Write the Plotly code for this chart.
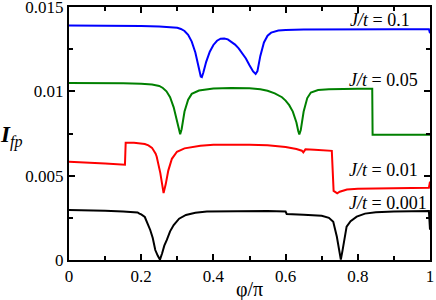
import plotly.graph_objects as go

# J/t = 0.1 (blue)
x_01 = [0, 0.05, 0.10, 0.15, 0.20, 0.25, 0.28, 0.30, 0.31, 0.32, 0.33, 0.34, 0.35, 0.355, 0.36, 0.365,
        0.368, 0.372, 0.38, 0.39, 0.40, 0.41, 0.42, 0.43, 0.44, 0.45, 0.46, 0.47, 0.48, 0.49, 0.50,
        0.51, 0.517, 0.522, 0.53, 0.54, 0.55, 0.56, 0.58, 0.60, 0.65, 0.70, 0.80, 0.90, 0.997, 1.0]
y_01 = [0.01390, 0.01390, 0.01389, 0.01388, 0.01387, 0.01385, 0.01382, 0.01377, 0.01370, 0.01358,
        0.01335, 0.01295, 0.01230, 0.01180, 0.01125, 0.01088, 0.01085, 0.01110, 0.01175, 0.01235,
        0.01275, 0.01300, 0.01312, 0.01313, 0.01308, 0.01295, 0.01277, 0.01255, 0.01228, 0.01195,
        0.01155, 0.01118, 0.01103, 0.01120, 0.01210, 0.01290, 0.01330, 0.01348, 0.01360, 0.01364,
        0.01367, 0.01368, 0.01368, 0.01368, 0.01368, 0.01345]

# J/t = 0.05 (green)
x_005 = [0, 0.05, 0.10, 0.15, 0.20, 0.23, 0.25, 0.26, 0.27, 0.28, 0.29, 0.295, 0.30, 0.305, 0.308,
         0.312, 0.32, 0.33, 0.34, 0.36, 0.38, 0.40, 0.45, 0.50, 0.53, 0.55, 0.57, 0.59, 0.60, 0.61,
         0.62, 0.63, 0.635, 0.638, 0.642, 0.65, 0.66, 0.67, 0.69, 0.72, 0.80, 0.840, 0.841, 0.90, 1.0]
y_005 = [0.01050, 0.01050, 0.01049, 0.01048, 0.01045, 0.01040, 0.01032, 0.01020, 0.01000, 0.00965,
         0.00905, 0.00860, 0.00800, 0.00755, 0.00745, 0.00775, 0.00880, 0.00950, 0.00985, 0.01005,
         0.01013, 0.01017, 0.01020, 0.01018, 0.01012, 0.01003, 0.00988, 0.00965, 0.00945, 0.00918,
         0.00880, 0.00815, 0.00765, 0.00745, 0.00770, 0.00880, 0.00960, 0.00993, 0.01008, 0.01013,
         0.01015, 0.01015, 0.00742, 0.00742, 0.00742]

# J/t = 0.01 (red)
x_001 = [0, 0.05, 0.10, 0.155, 0.157, 0.18, 0.20, 0.21, 0.22, 0.23, 0.24, 0.243, 0.253, 0.262,
         0.268, 0.275, 0.285, 0.299, 0.32, 0.364, 0.40, 0.45, 0.50, 0.55, 0.60, 0.63, 0.645, 0.649,
         0.655, 0.68, 0.71, 0.728, 0.733, 0.743, 0.75, 0.77, 0.80, 0.85, 0.90, 0.997, 1.0]
y_001 = [0.00582, 0.00578, 0.00572, 0.00565, 0.00695, 0.00695, 0.00692, 0.00688, 0.00680, 0.00665,
         0.00630, 0.00612, 0.00515, 0.00397, 0.00450, 0.00530, 0.00600, 0.00642, 0.00662, 0.00678,
         0.00684, 0.00686, 0.00684, 0.00680, 0.00670, 0.00658, 0.00648, 0.00638, 0.00656, 0.00654,
         0.00650, 0.00647, 0.00410, 0.00395, 0.00405, 0.00418, 0.00423, 0.00425, 0.00427, 0.00429,
         0.00465]

# J/t = 0.001 (black)
x_0001 = [0, 0.05, 0.10, 0.15, 0.19, 0.195, 0.20, 0.21, 0.216, 0.225, 0.232, 0.239, 0.246, 0.252,
          0.258, 0.264, 0.271, 0.28, 0.29, 0.305, 0.324, 0.35, 0.382, 0.45, 0.50, 0.55, 0.60, 0.603,
          0.65, 0.70, 0.72, 0.732, 0.742, 0.748, 0.753, 0.758, 0.764, 0.769, 0.78, 0.797, 0.82, 0.85,
          0.90, 0.95, 0.997, 1.0]
y_0001 = [0.00296, 0.00295, 0.00292, 0.00287, 0.00282, 0.00275, 0.00270, 0.00255, 0.00227, 0.00178,
          0.00130, 0.00059, 0.00025, 0.00002, 0.00040, 0.00085, 0.00119, 0.00170, 0.00207, 0.00245,
          0.00267, 0.00280, 0.00287, 0.00290, 0.00291, 0.00290, 0.00287, 0.00273, 0.00268, 0.00262,
          0.00250, 0.00227, 0.00138, 0.00060, 0.00002, 0.00060, 0.00140, 0.00198, 0.00230, 0.00257,
          0.00275, 0.00283, 0.00287, 0.00289, 0.00290, 0.00180]

series = [
    ("J/t = 0.1", x_01, y_01, "#0000ff"),
    ("J/t = 0.05", x_005, y_005, "#008000"),
    ("J/t = 0.01", x_001, y_001, "#ff0000"),
    ("J/t = 0.001", x_0001, y_0001, "#000000"),
]

label_text = ["<i>J/t</i> = 0.1", "<i>J/t</i> = 0.05", "<i>J/t</i> = 0.01", "<i>J/t</i> = 0.001"]
label_x = [0.95, 0.972, 0.972, 0.997]
label_y = [0.01423, 0.01067, 0.00534, 0.00338]

x_ticks = [0, 0.2, 0.4, 0.6, 0.8, 1]
x_ticklabels = ["0", "0.2", "0.4", "0.6", "0.8", "1"]
y_ticks = [0, 0.005, 0.01, 0.015]
y_ticklabels = ["0", "0.005", "0.01", "0.015"]

FONT = "Liberation Serif"

fig = go.Figure()
for name, xs, ys, col in series:
    fig.add_trace(go.Scatter(x=xs, y=ys, mode="lines", name=name,
                             line=dict(color=col, width=2), showlegend=False))

for t, xx, yy in zip(label_text, label_x, label_y):
    fig.add_annotation(x=xx, y=yy, text=t, showarrow=False, xanchor="right", yanchor="middle",
                       font=dict(family=FONT, size=18, color="black"))

axis_common = dict(showline=True, linecolor="black", linewidth=2, mirror="ticks",
                   ticks="inside", ticklen=6, tickwidth=1.5, tickcolor="black",
                   showgrid=False, zeroline=False, automargin=False,
                   ticklabeloverflow="allow",
                   tickfont=dict(family=FONT, size=17, color="black"))

fig.update_xaxes(range=[0, 1], tickvals=x_ticks, ticktext=x_ticklabels,
                 minor=dict(ticks="inside", ticklen=4, dtick=0.1, tickcolor="black", tickwidth=1.5),
                 **axis_common)
fig.update_yaxes(range=[0, 0.015], tickvals=y_ticks, ticktext=y_ticklabels,
                 minor=dict(ticks="inside", ticklen=4, dtick=0.0025, tickcolor="black", tickwidth=1.5),
                 **axis_common)

fig.add_annotation(xref="paper", yref="paper", x=-0.125, y=0.49, xanchor="right", yanchor="middle",
                   text="<b><i>I</i></b><sub><i>fp</i></sub>", showarrow=False,
                   font=dict(family=FONT, size=23, color="black"))
fig.add_annotation(xref="paper", yref="paper", x=0.5, y=-0.065, yanchor="top",
                   text="φ/π", showarrow=False,
                   font=dict(family=FONT, size=20, color="black"))

fig.update_layout(width=436, height=300, margin=dict(l=69, r=6, t=7, b=40),
                  plot_bgcolor="white", paper_bgcolor="white", template="none")

fig.write_html("out.html", config={"displayModeBar": False})

# remove the browser's default page margin so the figure sits at the window origin
with open("out.html", encoding="utf-8") as f:
    html = f.read()
html = html.replace("<head>", "<head><style>html,body{margin:0;padding:0;overflow:hidden;}</style>", 1)
with open("out.html", "w", encoding="utf-8") as f:
    f.write(html)
